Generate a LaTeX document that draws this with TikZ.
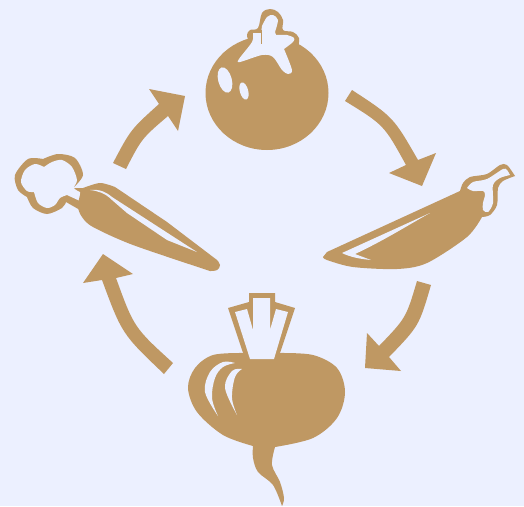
\documentclass[tikz,border=0pt]{standalone}
\definecolor{veg}{HTML}{BF9863}
\definecolor{paper}{HTML}{ECF0FF}
\tikzset{
  vegfill/.style={fill=veg,draw=none},
  hole/.style={fill=paper,draw=none},
  cycarrow/.style={fill=veg,draw=none}
}
\begin{document}
\begin{tikzpicture}[x=1pt,y=-1pt]
\useasboundingbox (0,0) rectangle (524,506);
\fill[paper] (0,0) rectangle (524,506);

% Tomato
\fill[vegfill] (267,93) ellipse [x radius=61.5, y radius=57];
\fill[vegfill] plot[smooth,tension=0.6] coordinates {(249,42)(247,35)(250,30)(258,28)(262,13)(270,9)(278,12)(283,20)(283,30)(293,32)(299,38)(298,47)} -- (270,60) -- cycle;
\fill[hole] plot[smooth,tension=0.5] coordinates {(262,26)(267,17)(273,15)(278,20)(275,32)} -- (276,35)
  -- plot[smooth,tension=0.5] coordinates {(276,35)(287,35)(294,38)(293,42)(284,49)}
  -- plot[smooth,tension=0.5] coordinates {(284,49)(292,70)(288,74)(282,70)(273,57)(262,55)(240,62)(239,59)(252,42)(253,33)}
  -- (261,33) -- cycle;
\fill[vegfill] (260.5,30) rectangle (262,44);
\fill[hole,rotate around={15:(225,80)}] (225,80) ellipse [x radius=6.8, y radius=13];
\fill[hole,rotate around={15:(244,91)}] (244,91) ellipse [x radius=4.2, y radius=8.8];

% Pepper
\fill[vegfill] plot[smooth,tension=0.5] coordinates {(323,257)(327,252)}
  -- (460,191)
  -- plot[smooth,tension=0.5] coordinates {(460,191)(463,183)(470,177)(487,174)(500,165)(507,165)(515,176)}
  -- plot[smooth,tension=0.5] coordinates {(515,176)(503,181)(498,188)(497,205)(490,215)(482,217)}
  -- plot[smooth,tension=0.5] coordinates {(482,217)(467,237)(427,263)(397,269)(353,267)(327,260)(323,257)} -- cycle;
\fill[hole] plot[smooth,tension=0.5] coordinates {(467,188)(473,182)(487,179)(503,169)(507,170)(510,175)}
  -- plot[smooth,tension=0.5] coordinates {(510,175)(500,178)(493,185)(493,203)(488,212)(483,210)(483,203)(485,195)(483,191)(473,191)(467,188)} -- cycle;
\fill[hole] (342,253) -- (430,213) .. controls (410,224) and (385,240) .. (355,254) -- (371,260) .. controls (360,259) and (350,257) .. (342,253) -- cycle;

% Carrot
\fill[vegfill] plot[smooth,tension=0.5] coordinates {(73,188)(83,175)(75,158)(58,154)(43,159)}
  -- plot[smooth,tension=0.5] coordinates {(43,159)(28,159)(15,175)(18,190)(27,197)}
  -- plot[smooth,tension=0.5] coordinates {(27,197)(33,208)(47,214)(62,208)(66,202)}
  -- (80,210) -- (84,188) -- cycle;
\fill[hole] plot[smooth,tension=0.5] coordinates {(80,192)(74,188)(77,180)(72,167)(62,160)(52,162)(44,167)}
  -- plot[smooth,tension=0.5] coordinates {(44,167)(35,164)(25,170)(21,182)(27,191)(34,192)}
  -- plot[smooth,tension=0.5] coordinates {(34,192)(38,203)(47,208)(55,205)(60,198)(67,195)}
  -- (80,201) -- cycle;
\fill[vegfill] plot[smooth,tension=0.5] coordinates {(83,188)(100,183)(115,187)}
  -- (167,222) -- (217,260)
  -- plot[smooth,tension=0.7] coordinates {(217,260)(220,265)(217,270)(210,271)}
  -- plot[smooth,tension=0.5] coordinates {(210,271)(133,245)(93,227)(82,217)(78,207)(80,195)(83,188)} -- cycle;
\fill[hole] (90,190) .. controls (100,189) and (106,192) .. (112,197) -- (197,252)
  -- (167,240) -- (127,213) -- (112,200) .. controls (105,193) and (98,191) .. (90,190) -- cycle;

% Turnip
\fill[vegfill] (243,353) -- (228,308) -- (249,302) -- (249,293) -- (275,293) -- (275,302) -- (295,308) -- (280,353) -- (260,365) -- cycle;
\fill[vegfill] plot[smooth,tension=0.55] coordinates {(280,353)(313,355)(337,368)(345,392)(337,418)(313,438)(275,447)}
  -- plot[smooth,tension=0.55] coordinates {(275,447)(272,465)(280,482)(284,498)(282,506)}
  -- plot[smooth,tension=0.55] coordinates {(282,506)(273,485)(258,472)(253,458)(253,446)}
  -- plot[smooth,tension=0.55] coordinates {(253,446)(223,435)(197,412)(188,388)(195,368)(213,355)(243,353)} -- cycle;
\fill[hole] (250,359) -- (274,359) -- (288,312) -- (276,309) -- (270,330) -- (270,298) -- (253,298) -- (253,330) -- (247,309) -- (235,312) -- cycle;
\fill[hole] plot[smooth,tension=0.6] coordinates {(235,363)(223,362)(210,372)(205,392)(218,416)}
  -- plot[smooth,tension=0.6] coordinates {(218,416)(212,398)(215,378)(223,367)(235,363)} -- cycle;
\fill[hole] plot[smooth,tension=0.6] coordinates {(242,369)(232,371)(225,388)(237,415)}
  -- plot[smooth,tension=0.6] coordinates {(237,415)(232,398)(235,377)(242,369)} -- cycle;

% Arrows
\fill[cycarrow] (345,101) -- (352,90) .. controls (393.3,117) .. (418,160) -- (436,153) -- (422,186) -- (389,173) -- (406,165) .. controls (384,125) .. (345,101) -- cycle;
\fill[cycarrow] (417,281) -- (431,285) .. controls (419,326) .. (389,357) -- (401,371) -- (365,368) -- (367,333) -- (379,346) .. controls (406,318) .. (417,281) -- cycle;
\fill[cycarrow] (173,363) -- (164,374) .. controls (122,334) .. (102,280) -- (83,283) -- (103,254) -- (133,274) -- (116,278) .. controls (134,327.5) .. (173,363) -- cycle;
\fill[cycarrow] (113,163) -- (126,169) .. controls (141.7,138.5) .. (168,116) -- (178,131) -- (185,96) -- (149,89) -- (159,104) .. controls (130.7,129.5) .. (113,163) -- cycle;
\end{tikzpicture}
\end{document}
